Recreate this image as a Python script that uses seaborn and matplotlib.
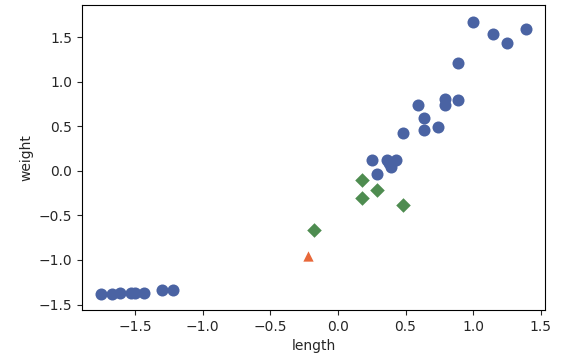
import pandas as pd
import seaborn as sns
import matplotlib.pyplot as plt

# class 0: circles
length_a = [-1.75, -1.67, -1.61, -1.53, -1.50, -1.43, -1.30, -1.22,
            0.25, 0.29, 0.36, 0.38, 0.39, 0.43,
            0.48, 0.59, 0.64, 0.64, 0.74, 0.79, 0.79, 0.89, 0.89,
            1.00, 1.15, 1.25, 1.39]
weight_a = [-1.38, -1.38, -1.37, -1.37, -1.37, -1.37, -1.34, -1.34,
            0.12, -0.03, 0.12, 0.09, 0.04, 0.12,
            0.43, 0.74, 0.59, 0.46, 0.49, 0.81, 0.74, 0.79, 1.21,
            1.67, 1.53, 1.43, 1.59]

# class 1: diamonds
length_b = [0.18, 0.29, 0.18, 0.48, -0.18]
weight_b = [-0.10, -0.22, -0.30, -0.38, -0.66]

# class 2: triangle
length_c = [-0.22]
weight_c = [-0.96]

df = pd.concat([
    pd.DataFrame({'length': length_a, 'weight': weight_a, 'cls': 'a'}),
    pd.DataFrame({'length': length_b, 'weight': weight_b, 'cls': 'b'}),
    pd.DataFrame({'length': length_c, 'weight': weight_c, 'cls': 'c'}),
])

sns.set_style('ticks')
plt.rcParams['font.family'] = ['DejaVu Sans']

fig = plt.figure(figsize=(5.67, 3.62), dpi=100)
ax = fig.add_axes([0.145, 0.144, 0.816, 0.842])

palette = {'a': '#4a63a3', 'b': '#4e8c50', 'c': '#e8683a'}
markers = {'a': 'o', 'b': 'D', 'c': '^'}
sizes = {'a': 75, 'b': 55, 'c': 55}

for cls, grp in df.groupby('cls'):
    sns.scatterplot(data=grp, x='length', y='weight', color=palette[cls],
                    marker=markers[cls], s=sizes[cls], linewidth=0, ax=ax)

ax.set_xlim(-1.89, 1.53)
ax.set_ylim(-1.56, 1.86)
ax.set_xticks([-1.5, -1.0, -0.5, 0.0, 0.5, 1.0, 1.5])
ax.set_yticks([-1.5, -1.0, -0.5, 0.0, 0.5, 1.0, 1.5])
ax.tick_params(labelsize=10)
ax.set_xlabel('length')
ax.set_ylabel('weight')
for s in ax.spines.values():
    s.set_visible(True)
    s.set_color('black')

fig.savefig('out.png')
